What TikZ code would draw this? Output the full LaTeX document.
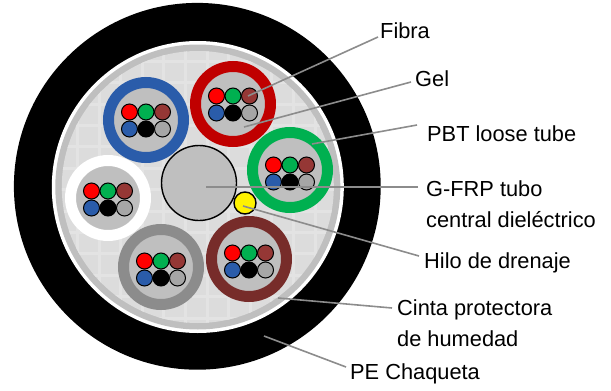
\documentclass[tikz,border=0pt]{standalone}
\usepackage{fontspec}
\setmainfont{Liberation Sans}
\definecolor{tred}{HTML}{C00000}
\definecolor{tblue}{HTML}{2A5CAA}
\definecolor{tgreen}{HTML}{00B050}
\definecolor{tgray}{HTML}{8C8C8C}
\definecolor{tbrown}{HTML}{772C2A}
\definecolor{core}{HTML}{BFBFBF}
\definecolor{fbrown}{HTML}{953735}
\definecolor{fgray}{HTML}{A6A6A6}
\definecolor{bedding}{HTML}{DCDCDC}
\definecolor{gridl}{HTML}{E3E3E3}
\definecolor{leader}{HTML}{8C8C8C}
\tikzset{
  lbl/.style={font=\fontsize{21.8}{31.5}\selectfont, inner sep=0pt, anchor=west, align=left},
  lead/.style={draw=leader, line width=1.6pt},
  fiber/.style={circle, draw=black, line width=1pt, minimum size=16pt, inner sep=0pt},
  tubering/.style={circle, line width=11pt, fill=core, minimum size=75pt, inner sep=0pt},
}
% centre x, centre y, ring colour, fibre row y offset
\newcommand{\cabletube}[5]{%
  \node[tubering, draw=#3] (#5) at (#1,#2) {};
  \begin{scope}[shift={(#1,#2+#4)}]
    \node[fiber, fill=red]    (#5a) at (-16.5,0) {};
    \node[fiber, fill=tgreen] (#5b) at (0,0) {};
    \node[fiber, fill=fbrown] (#5c) at (16.5,0) {};
    \node[fiber, fill=tblue]  (#5d) at (-16.5,17) {};
    \node[fiber, fill=black]  (#5e) at (0,17) {};
    \node[fiber, fill=fgray]  (#5f) at (16.5,17) {};
  \end{scope}}
\begin{document}
\begin{tikzpicture}[x=1pt,y=-1pt]
\useasboundingbox (0,0) rectangle (611,391);
% cable body
\fill[black] (197.3,186.3) circle[radius=183.4];
\fill[white] (197.8,187) circle[radius=146];
\fill[core] (197.8,187) circle[radius=142.5];
\begin{scope}
  \clip (197.8,187) circle[radius=136];
  \fill[bedding] (0,0) rectangle (400,400);
  \foreach \k in {0,...,18} {
    \draw[gridl, line width=3pt] (12.6+21.6*\k,0) -- (12.6+21.6*\k,391);
    \draw[gridl, line width=3pt] (0,18.4+21.4*\k) -- (611,18.4+21.4*\k);
  }
\end{scope}
% tubes
\cabletube{146}{120}{tblue}{-8}{tb}
\cabletube{233}{104}{tred}{-8}{tr}
\cabletube{290}{170}{tgreen}{-5}{tg}
\cabletube{108}{198}{white}{-7}{tw}
\cabletube{161}{267}{tgray}{-6}{ty}
\cabletube{249}{259}{tbrown}{-6}{tn}
% centre member and drain wire
\node[circle, draw=black, line width=1.4pt, fill=core, minimum size=75pt, inner sep=0pt] (frp) at (199,183) {};
\node[circle, draw=black, line width=1.4pt, fill=yellow, minimum size=22pt, inner sep=0pt] (drain) at (245,203) {};
% labels
\node[lbl] (fibra) at (380,31) {Fibra};
\node[lbl] (gel) at (415,79) {Gel};
\node[lbl] (pbt) at (427,134) {PBT loose tube};
\node[lbl] (gfrp) at (426,204) {G-FRP tubo\\central dieléctrico};
\node[lbl] (hilo) at (424,263) {Hilo de drenaje};
\node[lbl] (cinta) at (397,323) {Cinta protectora\\de humedad};
\node[lbl] (pe) at (350,374) {PE Chaqueta};
% leader ends
\coordinate (cFibra) at (248,96);
\coordinate (cGel) at (244,127);
\coordinate (cPbt) at (312,144);
\coordinate (cFrp) at (206,187);
\coordinate (cHilo) at (243,206);
\coordinate (cCinta) at (278,298);
\coordinate (cPe) at (264,336);
\coordinate (sFibra) at (378,37);
\coordinate (sGel) at (411,82);
\coordinate (sPbt) at (417,125);
\coordinate (sFrp) at (418,187);
\coordinate (sHilo) at (419,256);
\coordinate (sCinta) at (392,308);
\coordinate (sPe) at (346,367);
\draw[lead] (sFibra) -- (cFibra);
\draw[lead] (sGel) -- (cGel);
\draw[lead] (sPbt) -- (cPbt);
\draw[lead] (sFrp) -- (cFrp);
\draw[lead] (sHilo) -- (cHilo);
\draw[lead] (sCinta) -- (cCinta);
\draw[lead] (sPe) -- (cPe);
\end{tikzpicture}
\end{document}
